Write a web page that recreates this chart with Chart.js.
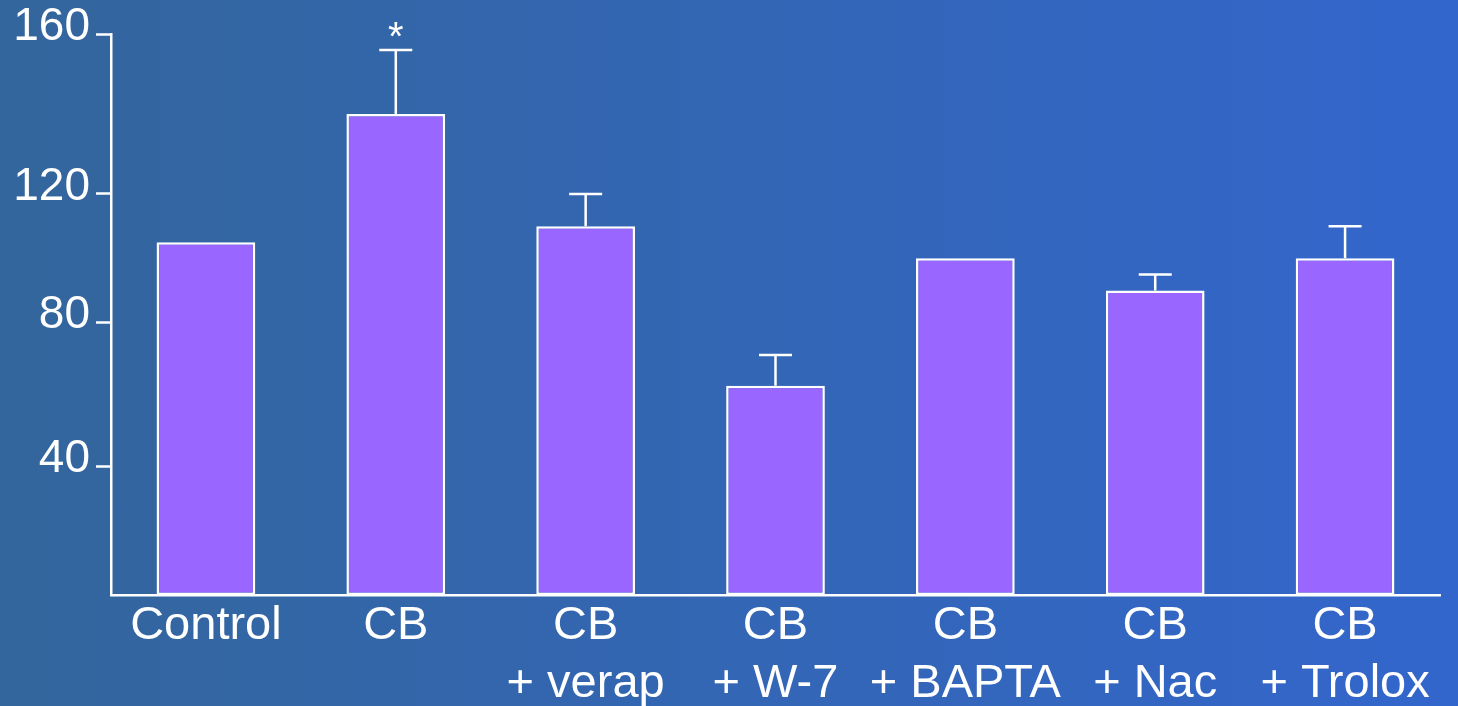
<!DOCTYPE html>
<html>
<head>
<meta charset="utf-8">
<script src="https://cdn.jsdelivr.net/npm/chart.js@4.4.1/dist/chart.umd.min.js"></script>
<style>
  html, body { margin: 0; padding: 0; }
  body {
    width: 1458px; height: 706px; overflow: hidden;
    background: linear-gradient(to right, #33669c, #3366cc);
  }
  canvas { display: block; }
</style>
</head>
<body>
<canvas id="chart" width="1458" height="706"></canvas>
<script>
// Treatment groups along the x axis
const categories = [
  'Control',
  'CB',
  ['CB', '+ verap'],
  ['CB', '+ W-7'],
  ['CB', '+ BAPTA'],
  ['CB', '+ Nac'],
  ['CB', '+ Trolox']
];
// Mean response per group
const means = [105, 140, 110, 62.5, 100, 90, 100];
// Upper error (SEM) per group; 0 = no bar drawn
const errors = [0, 16, 10, 8.5, 0, 5, 10];
// Significance marks above the error bars
const marks = ['', '*', '', '', '', '', ''];
// Y tick labels
const yTicks = [40, 80, 120, 160];

const FONT = '"Liberation Sans", Arial, Helvetica, sans-serif';

// The printed axis has uneven gaps between its ticks; this scale keeps
// that spacing and interpolates linearly between neighbouring ticks.
const STOPS = [0, 40, 80, 120, 160];
const STOP_FRACTIONS = [0, 0.2287, 0.4854, 0.7148, 1];

function valueToFraction(v) {
  if (v <= STOPS[0]) return 0;
  for (let i = 1; i < STOPS.length; i++) {
    if (v <= STOPS[i]) {
      const t = (v - STOPS[i - 1]) / (STOPS[i] - STOPS[i - 1]);
      return STOP_FRACTIONS[i - 1] + t * (STOP_FRACTIONS[i] - STOP_FRACTIONS[i - 1]);
    }
  }
  const n = STOPS.length - 1;
  return 1 + (v - STOPS[n]) / (STOPS[n] - STOPS[n - 1]) * (STOP_FRACTIONS[n] - STOP_FRACTIONS[n - 1]);
}
function fractionToValue(f) {
  for (let i = 1; i < STOP_FRACTIONS.length; i++) {
    if (f <= STOP_FRACTIONS[i]) {
      const t = (f - STOP_FRACTIONS[i - 1]) / (STOP_FRACTIONS[i] - STOP_FRACTIONS[i - 1]);
      return STOPS[i - 1] + t * (STOPS[i] - STOPS[i - 1]);
    }
  }
  return STOPS[STOPS.length - 1];
}

class StepwiseScale extends Chart.LinearScale {
  getPixelForValue(value) {
    return this.getPixelForDecimal(valueToFraction(value));
  }
  getValueForPixel(pixel) {
    return fractionToValue(this.getDecimalForPixel(pixel));
  }
}
StepwiseScale.id = 'stepwise';
StepwiseScale.defaults = Chart.LinearScale.defaults;
Chart.register(StepwiseScale);

// Error bars with caps, plus significance marks
const errorBarPlugin = {
  id: 'errorBars',
  afterDatasetsDraw(chart) {
    const { ctx } = chart;
    const y = chart.scales.y;
    const meta = chart.getDatasetMeta(0);
    ctx.save();
    ctx.strokeStyle = '#ffffff';
    ctx.fillStyle = '#ffffff';
    ctx.lineWidth = 2.5;
    meta.data.forEach((bar, i) => {
      const top = y.getPixelForValue(means[i] + errors[i]);
      if (errors[i] > 0) {
        ctx.beginPath();
        ctx.moveTo(bar.x, bar.y);
        ctx.lineTo(bar.x, top);
        ctx.moveTo(bar.x - 16.5, top);
        ctx.lineTo(bar.x + 16.5, top);
        ctx.stroke();
      }
      if (marks[i]) {
        ctx.font = '40px ' + FONT;
        ctx.textAlign = 'center';
        ctx.textBaseline = 'alphabetic';
        ctx.fillText(marks[i], bar.x, top);
      }
    });
    ctx.restore();
  }
};

new Chart(document.getElementById('chart'), {
  type: 'bar',
  data: {
    labels: categories,
    datasets: [{
      data: means,
      backgroundColor: '#9966ff',
      borderColor: '#ffffff',
      borderWidth: 2.5,
      borderSkipped: false,
      categoryPercentage: 1,
      barPercentage: 0.52
    }]
  },
  options: {
    responsive: false,
    animation: false,
    devicePixelRatio: 1,
    layout: { padding: { top: 34, right: 18, left: 0, bottom: 0 } },
    plugins: {
      legend: { display: false },
      tooltip: { enabled: false }
    },
    scales: {
      x: {
        grid: { display: false, drawTicks: false },
        border: { display: true, color: '#ffffff', width: 2.5 },
        ticks: {
          color: '#ffffff',
          font: { family: FONT, size: 47, lineHeight: 58 / 47 },
          padding: 2,
          maxRotation: 0,
          autoSkip: false
        },
        afterFit(scale) { scale.height = 111; }
      },
      y: {
        type: 'stepwise',
        min: 0,
        max: 160,
        grid: {
          drawOnChartArea: false,
          drawTicks: true,
          tickLength: 15,
          tickColor: '#ffffff',
          tickWidth: 2.5
        },
        border: { display: true, color: '#ffffff', width: 2.5 },
        ticks: {
          stepSize: 40,
          color: '#ffffff',
          font: { family: FONT, size: 46 },
          padding: 6,
          labelOffset: -7
        },
        afterBuildTicks(scale) {
          scale.ticks = yTicks.map(v => ({ value: v }));
        },
        afterFit(scale) { scale.width = 111; }
      }
    }
  },
  plugins: [errorBarPlugin]
});
</script>
</body>
</html>
